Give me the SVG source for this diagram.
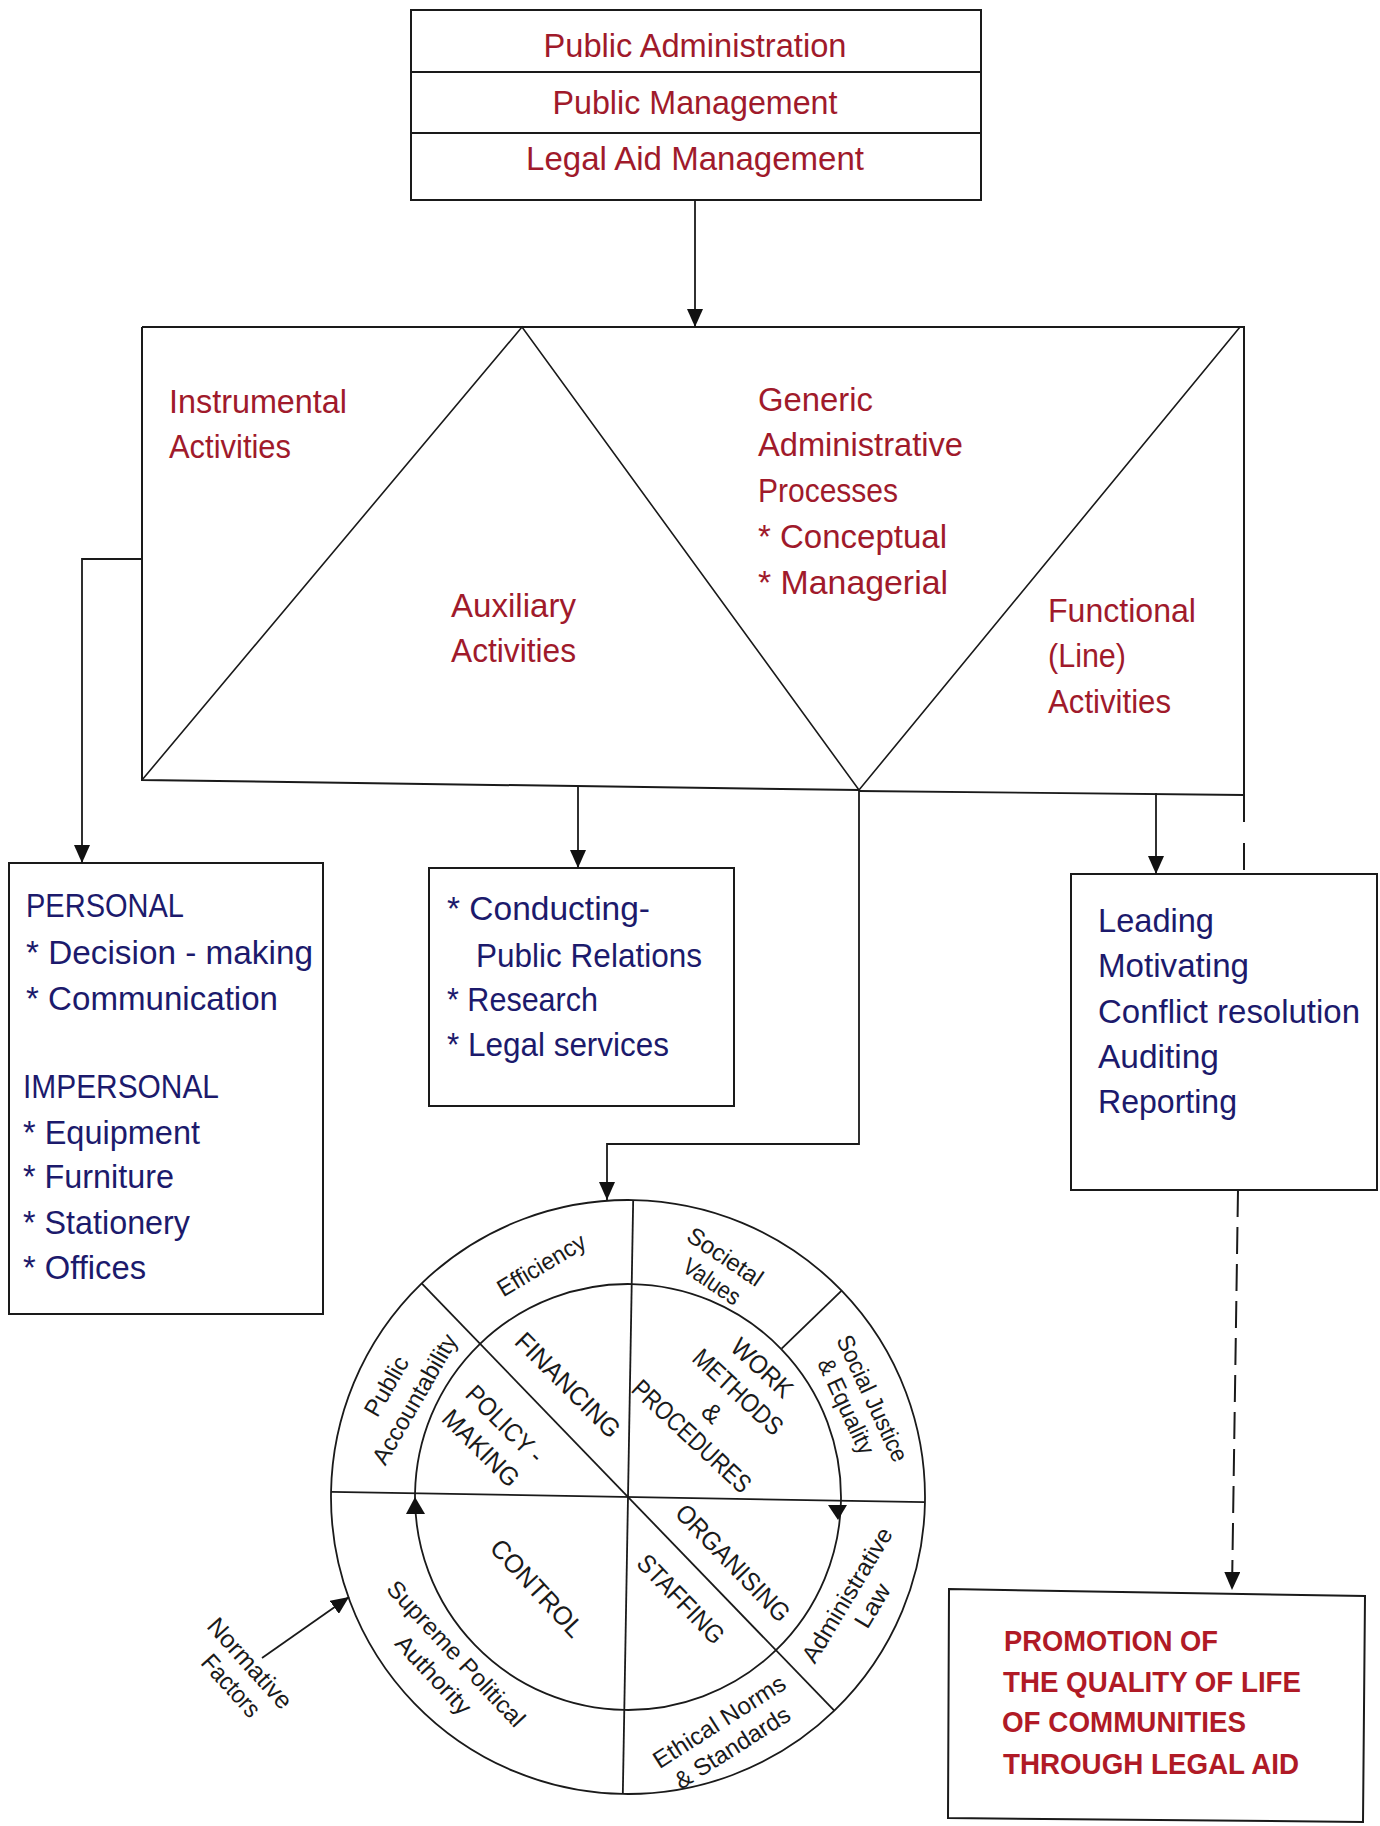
<svg xmlns="http://www.w3.org/2000/svg" width="1380" height="1826" viewBox="0 0 1380 1826">
<style>
.bg{fill:#ffffff}
.box{fill:none;stroke:#1a1a1a;stroke-width:2}
.thin{fill:none;stroke:#1a1a1a;stroke-width:1.6}
.wl{fill:none;stroke:#1a1a1a;stroke-width:1.8}
.con{fill:none;stroke:#1a1a1a;stroke-width:1.8}
.dash{fill:none;stroke:#1a1a1a;stroke-width:2;stroke-dasharray:27 10}
.red{font-family:"Liberation Sans",Arial,sans-serif;font-size:33px;fill:#a01a2b}
.blue{font-family:"Liberation Sans",Arial,sans-serif;font-size:33px;fill:#1c1a6c}
.bold{font-family:"Liberation Sans",Arial,sans-serif;font-size:29px;font-weight:700;fill:#b01a26}
.ring{font-family:"Liberation Sans",Arial,sans-serif;font-size:24px;fill:#1a1a1a}
.inner{font-family:"Liberation Sans",Arial,sans-serif;font-size:26px;fill:#1a1a1a}
.ah{fill:#111111}
</style>
<defs>
<marker id="arr" markerUnits="userSpaceOnUse" markerWidth="18" markerHeight="16" refX="18" refY="8" orient="auto">
<path d="M0,0 L18,8 L0,16 z" fill="#111111"/>
</marker>
</defs>
<rect class="bg" x="0" y="0" width="1380" height="1826"/>

<g id="top-box">
<rect class="box" x="411" y="10" width="570" height="190"/>
<line class="box" x1="411" y1="72" x2="981" y2="72"/>
<line class="box" x1="411" y1="133" x2="981" y2="133"/>
<text class="red" x="695" y="57" text-anchor="middle" textLength="303" lengthAdjust="spacingAndGlyphs">Public Administration</text>
<text class="red" x="695" y="114" text-anchor="middle" textLength="285" lengthAdjust="spacingAndGlyphs">Public Management</text>
<text class="red" x="695" y="170" text-anchor="middle" textLength="338" lengthAdjust="spacingAndGlyphs">Legal Aid Management</text>
</g>

<g id="activities">
<path class="box" d="M142,327 L1244,327 L1244,795 M142,327 L142,780 L859,790"/>
<path class="thin" d="M142,780 L522,327 L859,790 L1240,327"/>
<text class="red" x="169" y="413" textLength="178" lengthAdjust="spacingAndGlyphs">Instrumental</text>
<text class="red" x="169" y="458" textLength="122" lengthAdjust="spacingAndGlyphs">Activities</text>
<text class="red" x="451" y="617" textLength="125" lengthAdjust="spacingAndGlyphs">Auxiliary</text>
<text class="red" x="451" y="662" textLength="125" lengthAdjust="spacingAndGlyphs">Activities</text>
<text class="red" x="758" y="411" textLength="115" lengthAdjust="spacingAndGlyphs">Generic</text>
<text class="red" x="758" y="456" textLength="205" lengthAdjust="spacingAndGlyphs">Administrative</text>
<text class="red" x="758" y="502" textLength="140" lengthAdjust="spacingAndGlyphs">Processes</text>
<text class="red" x="758" y="548" textLength="189" lengthAdjust="spacingAndGlyphs">* Conceptual</text>
<text class="red" x="758" y="594" textLength="190" lengthAdjust="spacingAndGlyphs">* Managerial</text>
<text class="red" x="1048" y="622" textLength="148" lengthAdjust="spacingAndGlyphs">Functional</text>
<text class="red" x="1048" y="667" textLength="78" lengthAdjust="spacingAndGlyphs">(Line)</text>
<text class="red" x="1048" y="713" textLength="123" lengthAdjust="spacingAndGlyphs">Activities</text>
</g>

<g id="instrumental-box">
<rect class="box" x="9" y="863" width="314" height="451"/>
<text class="blue" x="26" y="917" textLength="158" lengthAdjust="spacingAndGlyphs">PERSONAL</text>
<text class="blue" x="26" y="964" textLength="287" lengthAdjust="spacingAndGlyphs">* Decision - making</text>
<text class="blue" x="26" y="1010" textLength="252" lengthAdjust="spacingAndGlyphs">* Communication</text>
<text class="blue" x="23" y="1098" textLength="196" lengthAdjust="spacingAndGlyphs">IMPERSONAL</text>
<text class="blue" x="23" y="1144" textLength="177" lengthAdjust="spacingAndGlyphs">* Equipment</text>
<text class="blue" x="23" y="1188" textLength="151" lengthAdjust="spacingAndGlyphs">* Furniture</text>
<text class="blue" x="23" y="1234" textLength="167" lengthAdjust="spacingAndGlyphs">* Stationery</text>
<text class="blue" x="23" y="1279" textLength="123" lengthAdjust="spacingAndGlyphs">* Offices</text>
</g>

<g id="auxiliary-box">
<rect class="box" x="429" y="868" width="305" height="238"/>
<text class="blue" x="447" y="920" textLength="203" lengthAdjust="spacingAndGlyphs">* Conducting-</text>
<text class="blue" x="476" y="967" textLength="226" lengthAdjust="spacingAndGlyphs">Public Relations</text>
<text class="blue" x="447" y="1011" textLength="151" lengthAdjust="spacingAndGlyphs">* Research</text>
<text class="blue" x="447" y="1056" textLength="222" lengthAdjust="spacingAndGlyphs">* Legal services</text>
</g>

<g id="functional-box">
<rect class="box" x="1071" y="874" width="306" height="316"/>
<text class="blue" x="1098" y="932" textLength="116" lengthAdjust="spacingAndGlyphs">Leading</text>
<text class="blue" x="1098" y="977" textLength="151" lengthAdjust="spacingAndGlyphs">Motivating</text>
<text class="blue" x="1098" y="1023" textLength="262" lengthAdjust="spacingAndGlyphs">Conflict resolution</text>
<text class="blue" x="1098" y="1068" textLength="121" lengthAdjust="spacingAndGlyphs">Auditing</text>
<text class="blue" x="1098" y="1113" textLength="139" lengthAdjust="spacingAndGlyphs">Reporting</text>
</g>

<g id="promotion-box">
<path class="box" d="M949,1589 L1365,1596 L1363,1822 L948,1818 Z"/>
<text class="bold" x="1004" y="1651" textLength="214" lengthAdjust="spacingAndGlyphs">PROMOTION OF</text>
<text class="bold" x="1003" y="1692" textLength="298" lengthAdjust="spacingAndGlyphs">THE QUALITY OF LIFE</text>
<text class="bold" x="1002" y="1732" textLength="244" lengthAdjust="spacingAndGlyphs">OF COMMUNITIES</text>
<text class="bold" x="1003" y="1774" textLength="296" lengthAdjust="spacingAndGlyphs">THROUGH LEGAL AID</text>
</g>

<g id="wheel">
<g transform="rotate(1 628 1497)">
<circle class="wl" cx="628" cy="1497" r="297"/>
<circle class="wl" cx="628" cy="1497" r="213"/>
<line class="wl" x1="331" y1="1497" x2="925" y2="1497"/>
<line class="wl" x1="628" y1="1200" x2="628" y2="1794"/>
<line class="wl" x1="418" y1="1287" x2="838" y2="1707"/>
<line class="wl" x1="779" y1="1346" x2="838" y2="1287"/>
</g>
<polygon class="ah" points="828,1505 847,1505 838,1520"/>
<polygon class="ah" points="406,1514 425,1514 415,1497"/>
<text class="ring" transform="translate(542 1266) rotate(-31)" text-anchor="middle" y="7" textLength="99" lengthAdjust="spacingAndGlyphs">Efficiency</text>
<text class="ring" transform="translate(718 1269) rotate(34)" text-anchor="middle"><tspan x="-1" y="-6" textLength="86" lengthAdjust="spacingAndGlyphs">Societal</tspan><tspan x="2" y="22" textLength="64" lengthAdjust="spacingAndGlyphs">Values</tspan></text>
<text class="ring" transform="translate(860 1403) rotate(65)" text-anchor="middle"><tspan x="1" y="-5" textLength="137" lengthAdjust="spacingAndGlyphs">Social Justice</tspan><tspan x="-3" y="22" textLength="103" lengthAdjust="spacingAndGlyphs">&amp; Equality</tspan></text>
<text class="ring" transform="translate(859 1601) rotate(-59)" text-anchor="middle"><tspan x="-1" y="-5" textLength="153" lengthAdjust="spacingAndGlyphs">Administrative</tspan><tspan x="3" y="22" textLength="47" lengthAdjust="spacingAndGlyphs">Law</tspan></text>
<text class="ring" transform="translate(726 1734) rotate(-32.5)" text-anchor="middle"><tspan x="1" y="-6" textLength="152" lengthAdjust="spacingAndGlyphs">Ethical Norms</tspan><tspan x="-2" y="23" textLength="132" lengthAdjust="spacingAndGlyphs">&amp; Standards</tspan></text>
<text class="ring" transform="translate(445 1664) rotate(47)" text-anchor="middle"><tspan x="0" y="-7" textLength="190" lengthAdjust="spacingAndGlyphs">Supreme Political</tspan><tspan x="0" y="24" textLength="99" lengthAdjust="spacingAndGlyphs">Authority</tspan></text>
<text class="ring" transform="translate(400 1393) rotate(-60)" text-anchor="middle"><tspan x="-1" y="-7" textLength="65" lengthAdjust="spacingAndGlyphs">Public</tspan><tspan x="2" y="24" textLength="146" lengthAdjust="spacingAndGlyphs">Accountability</tspan></text>
<text class="inner" transform="translate(568 1385) rotate(45)" text-anchor="middle" y="9" textLength="137" lengthAdjust="spacingAndGlyphs">FINANCING</text>
<text class="inner" transform="translate(493 1436) rotate(45)" text-anchor="middle"><tspan x="0" y="-8" textLength="98" lengthAdjust="spacingAndGlyphs">POLICY -</tspan><tspan x="0" y="26" textLength="97" lengthAdjust="spacingAndGlyphs">MAKING</tspan></text>
<text class="inner" transform="translate(727 1402) rotate(43)" text-anchor="middle"><tspan x="2.4" y="-40" textLength="74" lengthAdjust="spacingAndGlyphs">WORK</tspan><tspan x="1.2" y="-6" textLength="113" lengthAdjust="spacingAndGlyphs">METHODS</tspan><tspan x="-3.5" y="27">&amp;</tspan><tspan x="-2.4" y="58" textLength="152" lengthAdjust="spacingAndGlyphs">PROCEDURES</tspan></text>
<text class="inner" transform="translate(733 1563) rotate(46)" text-anchor="middle" y="9" textLength="152" lengthAdjust="spacingAndGlyphs">ORGANISING</text>
<text class="inner" transform="translate(681 1599) rotate(46)" text-anchor="middle" y="9" textLength="113" lengthAdjust="spacingAndGlyphs">STAFFING</text>
<text class="inner" transform="translate(537 1588) rotate(47)" text-anchor="middle" y="9" textLength="123" lengthAdjust="spacingAndGlyphs">CONTROL</text>
</g>

<g id="normative-factors">
<text class="ring" style="font-size:25px" transform="translate(240.5 1674.5) rotate(48)" text-anchor="middle"><tspan x="-2" y="-6" textLength="113" lengthAdjust="spacingAndGlyphs">Normative</tspan><tspan x="2" y="23" textLength="75" lengthAdjust="spacingAndGlyphs">Factors</tspan></text>
</g>

<g id="connectors">
<line class="con" x1="695" y1="200" x2="695" y2="327" marker-end="url(#arr)"/>
<polyline class="con" points="142,559 82,559 82,863" marker-end="url(#arr)"/>
<line class="con" x1="578" y1="787" x2="578" y2="868" marker-end="url(#arr)"/>
<polyline class="con" points="859,790 859,1144 607,1144 607,1200" marker-end="url(#arr)"/>
<line class="con" x1="859" y1="791" x2="1244" y2="795"/>
<line class="con" x1="1156" y1="793" x2="1156" y2="874" marker-end="url(#arr)"/>
<line class="dash" x1="1244" y1="795" x2="1244" y2="875" style="stroke-dasharray:27 21"/>
<line class="dash" x1="1238" y1="1190" x2="1232" y2="1590" marker-end="url(#arr)"/>
<line class="con" x1="262" y1="1658" x2="349" y2="1597" marker-end="url(#arr)"/>
</g>
</svg>
